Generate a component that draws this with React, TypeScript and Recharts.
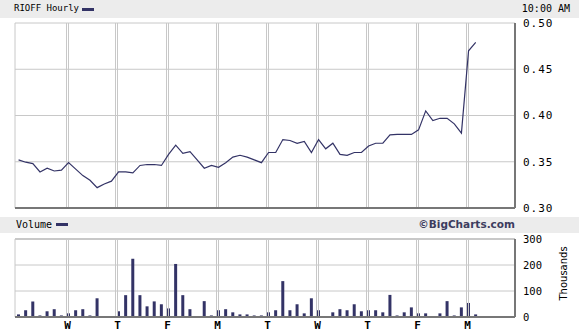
import { LineChart, Line, BarChart, Bar, XAxis, YAxis, CartesianGrid, ReferenceLine } from 'recharts';

// hourly closes, 7 bars per session, last session has 2
const PRICES = [
  0.352, 0.3495, 0.348, 0.339, 0.343, 0.34, 0.341,
  0.349, 0.342, 0.335, 0.33, 0.322, 0.326, 0.329,
  0.339, 0.339, 0.338, 0.346, 0.347, 0.347, 0.346,
  0.358, 0.368, 0.359, 0.361, 0.352, 0.343, 0.346,
  0.344, 0.349, 0.355, 0.357, 0.355, 0.352, 0.349,
  0.36, 0.36, 0.374, 0.373, 0.37, 0.372, 0.36,
  0.374, 0.364, 0.37, 0.358, 0.357, 0.36, 0.36,
  0.367, 0.37, 0.37, 0.379, 0.3795, 0.3795, 0.3795,
  0.3845, 0.405, 0.3945, 0.397, 0.397, 0.391, 0.381,
  0.47, 0.479,
];

// thousands of shares per hour
const VOLUME = [
  10, 26, 60, 6, 22, 30, 6,
  14, 26, 30, 6, 72, 0, 0,
  22, 84, 224, 84, 41, 60, 49,
  33, 204, 84, 30, 0, 61, 6,
  26, 30, 18, 10, 10, 6, 6,
  18, 26, 138, 26, 49, 14, 72,
  26, 0, 18, 30, 26, 49, 22,
  26, 26, 18, 85, 6, 18, 37,
  14, 14, 0, 14, 61, 6, 37,
  54, 10,
];

const DAY_LABELS = ['W', 'T', 'F', 'M', 'T', 'W', 'T', 'F', 'M'];
const PRICE_TICKS = [0.3, 0.35, 0.4, 0.45, 0.5];
const VOLUME_TICKS = [0, 100, 200, 300];
const SLOTS = 70;

const ink = '#333366';
const grid = '#c8c8c8';
const frame = '#777777';
const mono = '"DejaVu Sans Mono", monospace';

// session opens sit just left of the first bar of each day
const dayTicks = DAY_LABELS.map((_, i) => (i + 1) * 7 + 0.35);
const priceData = PRICES.map((p, i) => ({ x: i + 0.5, price: p }));
const volumeData = VOLUME.map((v, i) => ({ x: i + 0.5, volume: v }));

const DoubleLine = (props: any) => {
  const x = Math.round(props.x1);
  return (
    <g>
      <line x1={x - 1.5} x2={x - 1.5} y1={props.y1} y2={props.y2} stroke={grid} strokeWidth={1} />
      <line x1={x + 0.5} x2={x + 0.5} y1={props.y1} y2={props.y2} stroke={grid} strokeWidth={1} />
    </g>
  );
};

const band = (top: number, height: number): React.CSSProperties => ({
  position: 'absolute',
  left: 0,
  top,
  width: 579,
  height,
  background: '#ececec',
});

const Swatch = ({ left, top }: { left: number; top: number }) => (
  <div style={{ position: 'absolute', left, top, width: 12, height: 3, background: ink }} />
);

export default function App() {
  return (
    <div
      style={{
        position: 'absolute',
        left: 0,
        top: 0,
        width: 579,
        height: 335,
        background: '#fff',
        fontFamily: mono,
        color: '#000',
        overflow: 'hidden',
      }}
    >
      <div style={band(0, 18)}>
        <span style={{ position: 'absolute', left: 14, top: 3, fontSize: 9 }}>RIOFF Hourly</span>
        <Swatch left={82} top={8} />
        <span style={{ position: 'absolute', right: 9, top: 3, fontSize: 10 }}>10:00 AM</span>
      </div>

      <div style={{ position: 'absolute', left: 0, top: 0 }}>
        <LineChart width={579} height={216} data={priceData} margin={{ top: 23, right: 0, bottom: 0, left: 15 }}>
          <CartesianGrid vertical={false} stroke={grid} />
          <XAxis
            dataKey="x"
            type="number"
            domain={[0, SLOTS]}
            ticks={dayTicks}
            tick={false}
            tickLine={false}
            height={8}
            axisLine={{ stroke: frame, strokeWidth: 2 }}
          />
          <YAxis
            orientation="right"
            domain={[0.3, 0.5]}
            ticks={PRICE_TICKS}
            width={64}
            tickLine={false}
            tickMargin={2}
            tickFormatter={(v: number) => v.toFixed(2)}
            tick={{ fontSize: 11, fill: '#000', fontFamily: mono, letterSpacing: 1 }}
            axisLine={{ stroke: frame, strokeWidth: 2 }}
          />
          <ReferenceLine x={0} stroke={grid} />
          {dayTicks.map((t) => (
            <ReferenceLine key={t} x={t} shape={DoubleLine} />
          ))}
          <Line
            type="linear"
            dataKey="price"
            stroke={ink}
            strokeWidth={1.2}
            dot={false}
            isAnimationActive={false}
          />
        </LineChart>
      </div>

      <div style={band(217, 16)}>
        <span style={{ position: 'absolute', left: 16, top: 2, fontSize: 10 }}>Volume</span>
        <Swatch left={56} top={6} />
        <span
          style={{
            position: 'absolute',
            right: 64,
            top: 1,
            fontSize: 10.5,
            fontWeight: 'bold',
            fontFamily: '"DejaVu Sans", sans-serif',
            color: '#3c3c5e',
          }}
        >
          ©BigCharts.com
        </span>
      </div>

      <div style={{ position: 'absolute', left: 0, top: 233 }}>
        <BarChart width={579} height={102} data={volumeData} margin={{ top: 6, right: 0, bottom: 0, left: 15 }}>
          <CartesianGrid vertical={false} stroke={grid} />
          <XAxis
            dataKey="x"
            type="number"
            domain={[0, SLOTS]}
            ticks={dayTicks}
            interval={0}
            height={18}
            tickLine={false}
            tickSize={0}
            tickMargin={4}
            tickFormatter={(_v: number, i: number) => DAY_LABELS[i]}
            tick={{ fontSize: 11, fill: '#000', fontFamily: mono, fontWeight: 'bold' }}
            axisLine={{ stroke: frame, strokeWidth: 2 }}
          />
          <YAxis
            orientation="right"
            domain={[0, 300]}
            ticks={VOLUME_TICKS}
            width={64}
            tickLine={false}
            tickMargin={2}
            tick={{ fontSize: 10.5, fill: '#000', fontFamily: mono }}
            axisLine={{ stroke: frame, strokeWidth: 2 }}
          />
          <ReferenceLine x={0} stroke={grid} />
          <ReferenceLine y={300} stroke={grid} strokeWidth={2} />
          {dayTicks.map((t) => (
            <ReferenceLine key={t} x={t} shape={DoubleLine} />
          ))}
          <Bar dataKey="volume" fill={ink} barSize={3} isAnimationActive={false} />
        </BarChart>
      </div>

      <div
        style={{
          position: 'absolute',
          left: 538,
          top: 270,
          width: 50,
          textAlign: 'center',
          transform: 'rotate(-90deg)',
          fontSize: 10,
          fontFamily: '"DejaVu Sans", sans-serif',
        }}
      >
        Thousands
      </div>
    </div>
  );
}
